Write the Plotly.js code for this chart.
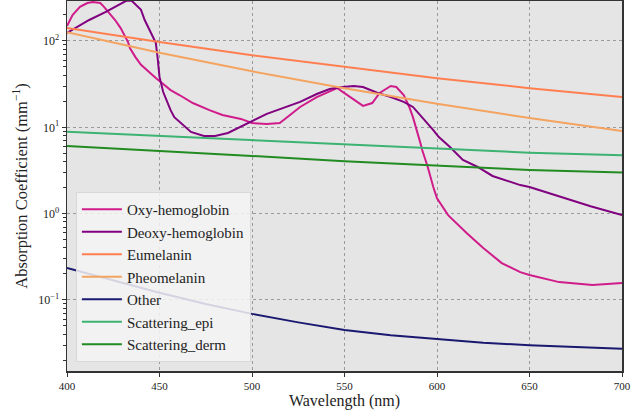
<!DOCTYPE html>
<html>
<head>
<meta charset="utf-8">
<script src="https://cdn.plot.ly/plotly-3.0.1.min.js"></script>
<style>html,body{margin:0;padding:0;background:#fff;}#chart{width:644px;height:412px;}</style>
</head>
<body>
<div id="chart"></div>
<script>
// Oxy-hemoglobin
const oxyWl = [400,403,407,411,414,418,420,423,426,429,431,433,434,437,440,444,448,451,456,461,468,477,484,494,500,508,515,519,526,535,542,546,549,555,560,565,569,575,578,582,585,587,589,591,592,595,598,600,606,616,625,635,645,650,666,684,700];
const oxyVal = [149,200,248,275,282,275,248,211,175,141,117,97,83,65,53,44,37.3,33,27,23.5,19.1,15.8,13.9,12.5,11.2,10.9,11.2,13.1,17.2,22.4,26.4,28.5,25.7,20.7,17.7,19.1,25,30.1,29.3,23.7,17.2,13.1,9.5,6.6,5.45,3.47,2.03,1.5,0.96,0.596,0.40,0.267,0.21,0.195,0.161,0.149,0.157];

// Deoxy-hemoglobin
const deoxyWl = [400,412,421,432,435,440,442,445,448,449,450,452,454,456,458,461,467,474,480,487,494,500,508,517,526,535,542,549,555,560,568,575,582,587,592,598,601,607,614,622,630,640,645,650,667,683,700];
const deoxyVal = [124,175,217,292,292,229,175,127,95,63.5,38.3,25.6,19.6,15.8,13.1,11.5,8.83,7.93,7.93,8.6,10.1,11.8,14.3,16.7,19.7,24.3,27.8,29.3,30.1,29.3,25,22.4,19.7,17.2,13.1,9.3,7.7,5.9,4.18,3.47,2.73,2.32,2.14,2.03,1.56,1.22,0.96];

// Melanins and scattering (every 50 nm)
const wl50 = [400,450,500,550,600,650,700];
const eumelaninVal = [141,97,68.5,50,37,28.4,22.4];
const pheomelaninVal = [126,73,44.5,28.3,18.7,12.8,9.06];
const scatEpiVal = [8.9,7.93,7.13,6.3,5.61,5.08,4.73];
const scatDermVal = [6.07,5.36,4.65,4.05,3.6,3.2,3.0];

// Other
const otherWl = [400,425,450,475,500,525,550,575,600,625,650,675,700];
const otherVal = [0.234,0.168,0.121,0.090,0.069,0.055,0.045,0.039,0.035,0.032,0.0298,0.0282,0.0272];

// Tick labels
const xTicks = [400,450,500,550,600,650,700];
const yTickVals = [0.1,1,10,100];
const yTickText = ['10<sup>−1</sup>','10<sup>0</sup>','10<sup>1</sup>','10<sup>2</sup>'];
const yMinorVals = [0.02,0.03,0.04,0.05,0.06,0.07,0.08,0.09,0.2,0.3,0.4,0.5,0.6,0.7,0.8,0.9,2,3,4,5,6,7,8,9,20,30,40,50,60,70,80,90,200];

const names = ['Oxy-hemoglobin','Deoxy-hemoglobin','Eumelanin','Pheomelanin','Other','Scattering_epi','Scattering_derm'];
const colors = ['#d01c8b','#800080','#ff7f50','#f4a460','#191970','#3cb371','#228b22'];
const xs = [oxyWl, deoxyWl, wl50, wl50, otherWl, wl50, wl50];
const ys = [oxyVal, deoxyVal, eumelaninVal, pheomelaninVal, otherVal, scatEpiVal, scatDermVal];

const traces = names.map((n,i)=>({
  x: xs[i], y: ys[i], name: n, type:'scatter', mode:'lines',
  line:{color:colors[i], width:2}
}));

const serif = 'Liberation Serif, Times New Roman, serif';
const layout = {
  width:644, height:412,
  margin:{l:67, r:22, t:1, b:41},
  paper_bgcolor:'#ffffff', plot_bgcolor:'#e5e5e5',
  font:{family:serif, color:'#222', size:11},
  showlegend:true,
  legend:{x:0.016, y:0.024, xanchor:'left', yanchor:'bottom',
    bgcolor:'rgba(245,245,245,0.85)', bordercolor:'#d8d8d8', borderwidth:1,
    font:{family:serif, size:15, color:'#222'}, itemwidth:40},
  xaxis:{
    range:[400,700], tickmode:'array', tickvals:xTicks,
    ticks:'outside', ticklen:4, tickcolor:'#333', tickfont:{family:serif, size:11},
    showline:true, linecolor:'#333', linewidth:1.5, mirror:true,
    showgrid:true, gridcolor:'#9a9a9a', griddash:'dot', gridwidth:1,
    zeroline:false,
    title:{text:'Wavelength (nm)', font:{family:serif, size:16, color:'#222'}, standoff:1}
  },
  yaxis:{
    type:'log', range:[-1.823, 2.463], tickmode:'array', tickvals:yTickVals, ticktext:yTickText,
    ticks:'outside', ticklen:4, tickcolor:'#333', tickfont:{family:serif, size:12},
    minor:{tickmode:'array', tickvals:yMinorVals, ticks:'outside', ticklen:2.5, tickcolor:'#333', showgrid:false},
    showline:true, linecolor:'#333', linewidth:1.5, mirror:true,
    showgrid:true, gridcolor:'#9a9a9a', griddash:'dot', gridwidth:1,
    zeroline:false,
    title:{text:'Absorption Coefficient (mm<sup>−1</sup>)', font:{family:serif, size:16.5, color:'#222'}, standoff:6}
  }
};
Plotly.newPlot('chart', traces, layout, {displayModeBar:false, staticPlot:true});
</script>
</body>
</html>
